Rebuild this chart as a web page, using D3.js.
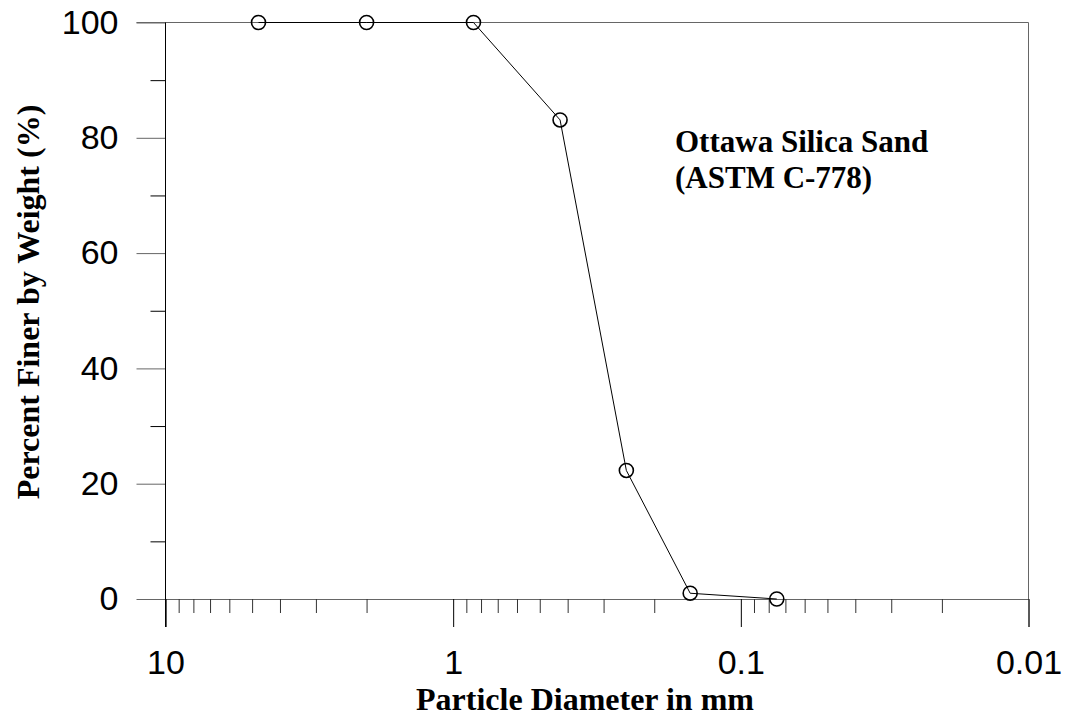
<!DOCTYPE html>
<html>
<head>
<meta charset="utf-8">
<script src="https://cdn.jsdelivr.net/npm/d3@7/dist/d3.min.js"></script>
<style>
  html, body { margin: 0; padding: 0; background: #fff; }
  svg { display: block; }
</style>
</head>
<body>
<svg id="chart" width="1070" height="719"></svg>
<script>
// ---- data ----
const diameters = [4.75, 2.0, 0.85, 0.425, 0.25, 0.15, 0.075];   // mm
const percentFiner = [100, 100, 100, 83.1, 22.3, 1.0, 0.0];      // %
const xMajorTicks = [10, 1, 0.1, 0.01];
const xMajorLabels = ["10", "1", "0.1", "0.01"];
const xMinorTicks = [9,8,7,6,5,4,3,2, 0.9,0.8,0.7,0.6,0.5,0.4,0.3,0.2, 0.09,0.08,0.07,0.06,0.05,0.04,0.03,0.02];
const yMajorTicks = [0, 20, 40, 60, 80, 100];
const yMinorTicks = [10, 30, 50, 70, 90];
const xTitle = "Particle Diameter in mm";
const yTitle = "Percent Finer by Weight (%)";
const noteLines = ["Ottawa Silica Sand", "(ASTM C-778)"];

// ---- layout ----
const plotLeft = 165.5, plotRight = 1028.5, plotTop = 22.5, plotBottom = 599;
const svg = d3.select("#chart");
const x = d3.scaleLog().domain([10, 0.01]).range([plotLeft, plotRight]);
const y = d3.scaleLinear().domain([0, 100]).range([plotBottom, plotTop]);

const sans = "'Liberation Sans', Arial, sans-serif";
const serif = "'Liberation Serif', 'Times New Roman', serif";

// frame: top and right
svg.append("line").attr("x1", 136.5).attr("x2", plotRight).attr("y1", y(100)).attr("y2", y(100))
  .attr("stroke", "#666").attr("stroke-width", 1);
svg.append("line").attr("x1", plotRight).attr("x2", plotRight).attr("y1", y(100)).attr("y2", plotBottom)
  .attr("stroke", "#666").attr("stroke-width", 1);

// x axis major
const gxMaj = svg.append("g").attr("transform", `translate(0,${plotBottom})`)
  .call(d3.axisBottom(x).tickValues(xMajorTicks).tickSize(28).tickPadding(23)
    .tickFormat((d, i) => xMajorLabels[i]));
gxMaj.select(".domain").attr("stroke", "#666");
gxMaj.selectAll(".tick line").attr("stroke", "#000");
gxMaj.selectAll(".tick text").attr("font-family", sans).attr("font-size", 34).attr("fill", "#000");

// x axis minor
const gxMin = svg.append("g").attr("transform", `translate(0,${plotBottom})`)
  .call(d3.axisBottom(x).tickValues(xMinorTicks).tickSize(14).tickFormat(""));
gxMin.select(".domain").remove();
gxMin.selectAll(".tick line").attr("stroke", "#333");

// y axis major
const gyMaj = svg.append("g").attr("transform", `translate(${plotLeft},0)`)
  .call(d3.axisLeft(y).tickValues(yMajorTicks).tickSize(29).tickPadding(18));
gyMaj.select(".domain").remove();
gyMaj.selectAll(".tick line").attr("stroke", "#666");
gyMaj.selectAll(".tick text").attr("font-family", sans).attr("font-size", 34).attr("fill", "#000");

// y axis minor
const gyMin = svg.append("g").attr("transform", `translate(${plotLeft},0)`)
  .call(d3.axisLeft(y).tickValues(yMinorTicks).tickSize(15).tickFormat(""));
gyMin.select(".domain").remove();
gyMin.selectAll(".tick line").attr("stroke", "#000");

// left axis line (extends to major tick at 10)
svg.append("line").attr("x1", plotLeft).attr("x2", plotLeft).attr("y1", y(100)).attr("y2", plotBottom + 28)
  .attr("stroke", "#000").attr("stroke-width", 1);

// data
const pts = diameters.map((d, i) => [d, percentFiner[i]]);
svg.append("path").datum(pts)
  .attr("fill", "none").attr("stroke", "#000").attr("stroke-width", 1)
  .attr("d", d3.line().x(d => x(d[0])).y(d => y(d[1])));
svg.selectAll("circle.pt").data(pts).enter().append("circle")
  .attr("class", "pt")
  .attr("cx", d => x(d[0])).attr("cy", d => y(d[1])).attr("r", 7)
  .attr("fill", "none").attr("stroke", "#000").attr("stroke-width", 1.6);

// titles
svg.append("text").attr("x", 585).attr("y", 710).attr("text-anchor", "middle")
  .attr("font-family", serif).attr("font-weight", "bold").attr("font-size", 32)
  .attr("fill", "#000").text(xTitle);
svg.append("text").attr("transform", "translate(39,302) rotate(-90)").attr("text-anchor", "middle")
  .attr("font-family", serif).attr("font-weight", "bold").attr("font-size", 32)
  .attr("fill", "#000").text(yTitle);

// note
noteLines.forEach((t, i) => {
  svg.append("text").attr("x", 675).attr("y", 152 + i * 36)
    .attr("font-family", serif).attr("font-weight", "bold").attr("font-size", 31)
    .attr("fill", "#000").text(t);
});
</script>
</body>
</html>
